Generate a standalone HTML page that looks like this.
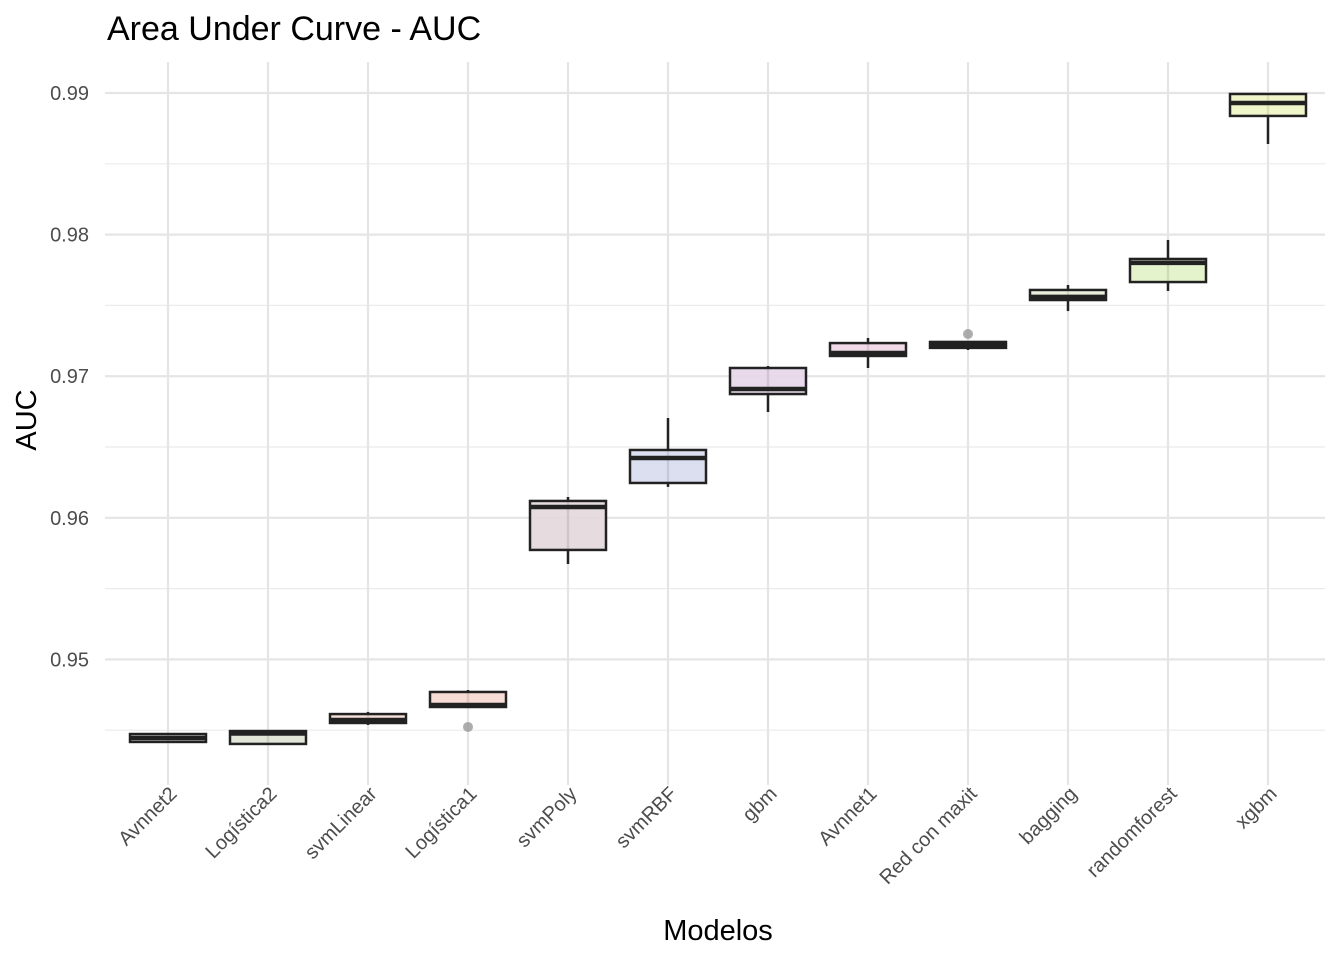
<!DOCTYPE html>
<html><head><meta charset="utf-8"><style>body{margin:0;background:#fff}svg{font-family:"Liberation Sans",Arial,sans-serif}</style></head>
<body>
<svg id="chart" width="1344" height="960" viewBox="0 0 1344 960">
<text x="107" y="40" font-size="34" fill="#000">Area Under Curve - AUC</text>
<text transform="translate(36,420) rotate(-90)" text-anchor="middle" font-size="29">AUC</text>
<text x="718" y="940" text-anchor="middle" font-size="29">Modelos</text>
<g id="grid"></g><g id="boxes"></g><g id="labels"></g>
</svg>
<script>
const categories=["Avnnet2","Logística2","svmLinear","Logística1","svmPoly","svmRBF","gbm","Avnnet1","Red con maxit","bagging","randomforest","xgbm"];
const lowW=[0.94417,0.94403,0.94537,0.94664,0.95674,0.96218,0.96747,0.97058,0.97185,0.9746,0.97602,0.9864];
const q1=[0.94417,0.94403,0.94551,0.94664,0.95773,0.96246,0.96874,0.97143,0.972,0.97538,0.97665,0.98838];
const median=[0.94445,0.94477,0.94572,0.94678,0.96076,0.96422,0.9691,0.97164,0.9722,0.9756,0.978,0.98929];
const q3=[0.94473,0.94494,0.94614,0.9477,0.96119,0.96479,0.97058,0.97234,0.97242,0.97609,0.97828,0.98993];
const highW=[0.9448,0.94494,0.94629,0.94784,0.96147,0.96705,0.97072,0.9727,0.97242,0.97644,0.97962,0.98993];
const outliers=[[],[],[],[0.94523],[],[],[],[],[0.97298],[],[],[]];
const fills=["#e0e0dc","#dfe3d4","#f5ddd5","#f5d8d0","#e3d8db","#d8dced","#e6d6e9","#f0d6e6","#e9dde6","#e8ecd8","#e2f2c8","#f0f4c4"];
const yTicks=[0.95,0.96,0.97,0.98,0.99];
const yMinor=[0.945,0.955,0.965,0.975,0.985];
const NS="http://www.w3.org/2000/svg";
const L=105,R=1325,T=62,B=785;
const y=v=>93+(0.99-v)*14160;
const x=i=>168+i*100;
function mk(t,a,p){const e=document.createElementNS(NS,t);for(const k in a)e.setAttribute(k,a[k]);p.appendChild(e);return e;}
const g=document.getElementById('grid'),bx=document.getElementById('boxes'),lb=document.getElementById('labels');
yMinor.forEach(v=>{const l=mk('line',{x1:L,x2:R,y1:y(v),y2:y(v),stroke:'#ebebeb','stroke-width':1.2},g);

});
yTicks.forEach(v=>{const l=mk('line',{x1:L,x2:R,y1:y(v),y2:y(v),stroke:'#e5e5e5','stroke-width':2.2},g);


const t=mk('text',{x:89,y:y(v)+7,'text-anchor':'end','font-size':20,fill:'#4d4d4d'},lb);t.textContent=v.toFixed(2);

});
categories.forEach((c,i)=>{const l=mk('line',{x1:x(i),x2:x(i),y1:T,y2:B,stroke:'#e5e5e5','stroke-width':2.2},g);


const t=mk('text',{transform:`translate(${x(i)+10},${B+10}) rotate(-45)`,'text-anchor':'end','font-size':20,fill:'#4d4d4d'},lb);t.textContent=c;


const grp=mk('g',{},bx);


mk('line',{x1:x(i),x2:x(i),y1:y(highW[i]),y2:y(lowW[i]),stroke:'#222','stroke-width':2.5},grp);
mk('rect',{x:x(i)-38,y:y(q3[i]),width:76,height:Math.max(1,y(q1[i])-y(q3[i])),fill:fills[i],'fill-opacity':0.9,stroke:'#222','stroke-width':2.5},grp);
mk('line',{x1:x(i)-38,x2:x(i)+38,y1:y(median[i]),y2:y(median[i]),stroke:'#222','stroke-width':4.5},grp);
outliers[i].forEach(o=>{const p=mk('circle',{cx:x(i),cy:y(o),r:5,fill:'#999','fill-opacity':0.8},grp);

});
});
</script>
</body></html>
